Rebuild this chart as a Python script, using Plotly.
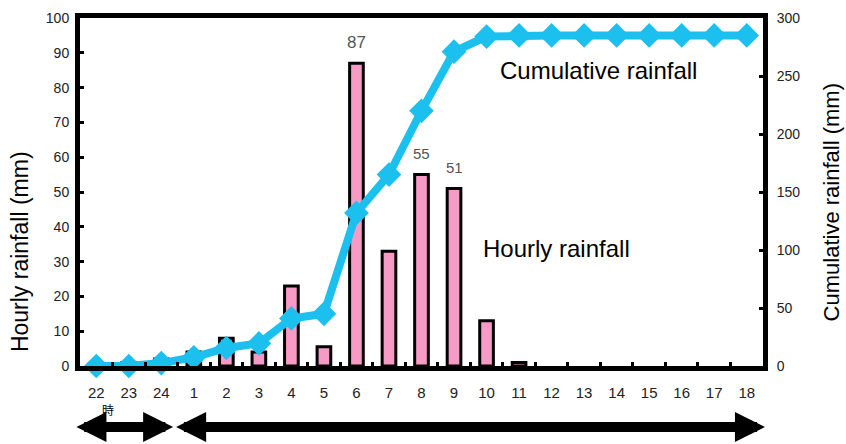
import plotly.graph_objects as go

hours = ["22", "23", "24", "1", "2", "3", "4", "5", "6", "7", "8", "9", "10",
         "11", "12", "13", "14", "15", "16", "17", "18"]
hourly = [0, 1, 2, 4, 8, 4, 23, 5.5, 87, 33, 55, 51, 13, 1, 0, 0, 0, 0, 0, 0, 0]
cumulative = [0, 0, 2.5, 7.5, 15.5, 19.5, 41, 45, 132, 165, 220, 271, 284, 285,
              285, 285, 285, 285, 285, 285, 285]
labelled_hours = ["6", "8", "9"]
label_sizes = [17, 15, 15]

left_ticks = list(range(0, 101, 10))
right_ticks = list(range(0, 301, 50))

PINK = "#f79ac5"
CYAN = "#1cc0ef"
NUMFONT = "Liberation Sans, Arial, sans-serif"
YTICKFONT = dict(family=NUMFONT, size=14, color="#222")
XTICKFONT = dict(family=NUMFONT, size=15, color="#222")
TXT = "Liberation Sans, Arial, sans-serif"

fig = go.Figure()
fig.add_trace(go.Bar(
    x=hours, y=hourly, yaxis="y", width=0.42,
    marker=dict(color=PINK, line=dict(color="black",
                                      width=[3 if v > 0 else 0 for v in hourly])),
    showlegend=False, hoverinfo="x+y",
))
fig.add_trace(go.Scatter(
    x=hours, y=cumulative, yaxis="y2", mode="lines+markers",
    line=dict(color=CYAN, width=8),
    marker=dict(symbol="diamond", size=19, color=CYAN),
    cliponaxis=False, showlegend=False,
))

annotations = []
for h, s in zip(labelled_hours, label_sizes):
    i = hours.index(h)
    v = hourly[i]
    annotations.append(dict(x=i, y=v, xref="x", yref="y", text=str(v),
                            showarrow=False, yshift=21, xanchor="center", yanchor="middle",
                            font=dict(family=NUMFONT, size=s, color="#555")))

annotations += [
    dict(x=-0.0875, y=0.328, xref="paper", yref="paper", text="Hourly rainfall (mm)",
         textangle=-90, showarrow=False, xanchor="center", yanchor="middle",
         font=dict(family=TXT, size=23, color="black")),
    dict(x=1.1, y=0.471, xref="paper", yref="paper", text="Cumulative rainfall (mm)",
         textangle=-90, showarrow=False, xanchor="center", yanchor="middle",
         font=dict(family=TXT, size=22, color="black")),
    dict(x=15.45, y=85, xref="x", yref="y", text="Cumulative rainfall",
         showarrow=False, xanchor="center", yanchor="middle",
         font=dict(family=TXT, size=24, color="black")),
    dict(x=14.15, y=33.8, xref="x", yref="y", text="Hourly rainfall",
         showarrow=False, xanchor="center", yanchor="middle",
         font=dict(family=TXT, size=24, color="black")),
    dict(x=0.35, y=-0.124, xref="x", yref="paper", text="時",
         showarrow=False, xanchor="center", yanchor="middle",
         font=dict(family="Noto Sans CJK JP", size=12, color="black")),
    dict(x=-0.61, y=-0.175, xref="x", yref="paper", ax=2.41, ay=0, axref="x", ayref="pixel",
         text="", showarrow=True, arrowhead=2, arrowside="end+start", arrowsize=0.6,
         arrowwidth=10, arrowcolor="black", standoff=0, startstandoff=0),
    dict(x=20.56, y=-0.175, xref="x", yref="paper", ax=2.41, ay=0, axref="x", ayref="pixel",
         text="", showarrow=True, arrowhead=2, arrowside="end+start", arrowsize=0.6,
         arrowwidth=10, arrowcolor="black", standoff=0, startstandoff=0),
]

fig.update_layout(
    width=846, height=444,
    margin=dict(l=80, r=83, t=18, b=78, autoexpand=False),
    paper_bgcolor="white", plot_bgcolor="white",
    xaxis=dict(type="category", range=[-0.5, 20.5], showline=True, linecolor="black",
               linewidth=5, mirror=True, ticks="inside", tickson="boundaries",
               ticklen=4, tickwidth=3, tickcolor="black", showgrid=False,
               tickfont=XTICKFONT, ticklabelstandoff=9, fixedrange=True),
    yaxis=dict(range=[0, 100], tickvals=left_ticks, showline=True, linecolor="black",
               linewidth=5, ticks="inside", ticklen=4, tickwidth=3, tickcolor="black",
               showgrid=False, zeroline=False, tickfont=YTICKFONT, ticklabelstandoff=3),
    yaxis2=dict(range=[0, 300], tickvals=right_ticks, overlaying="y", side="right",
                showline=True, linecolor="black", linewidth=5, ticks="inside",
                ticklen=4, tickwidth=3, tickcolor="black", showgrid=False,
                zeroline=False, tickfont=YTICKFONT, ticklabelstandoff=6),
    annotations=annotations,
)

fig.write_html("out.html", config={"displayModeBar": False},
               post_script="document.body.style.margin='0';document.body.style.overflow='hidden';")
